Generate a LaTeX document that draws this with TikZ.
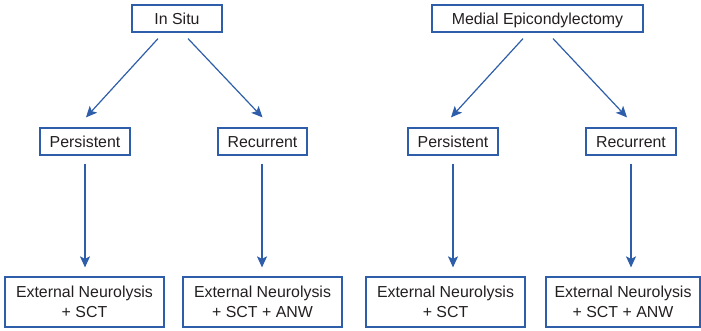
\documentclass[tikz,border=0pt]{standalone}
\usepackage{fontspec}
\setmainfont{Liberation Sans}
\usepackage{tikz}
\usetikzlibrary{arrows.meta}
\definecolor{flowblue}{RGB}{46,94,170}
\definecolor{txtgray}{RGB}{35,31,32}

\begin{document}
\begin{tikzpicture}[x=1pt, y=1pt,
  box/.style={draw=flowblue, line width=1.2pt, text=txtgray, inner sep=0pt, minimum height=27pt, font=\fontsize{15.9}{19.5}\selectfont},
  onebox/.style={box, text height=11.3pt, text depth=0pt},
  endbox/.style={box, minimum width=159pt, minimum height=50pt, align=center},
  arr/.style={draw=flowblue, line width=1.2pt, -{Stealth[length=11pt, width=10pt, inset=2.5pt]}}]
\useasboundingbox (0,0) rectangle (701,331);
% in situ
\node[onebox, minimum width=90pt] (1) at (177,312.5){In Situ};
\node[onebox, minimum width=90pt] (2) at (85,189.5){Persistent};
\node[onebox, minimum width=89pt] (3) at (262.5,189.5){Recurrent};
\node[endbox] (4) at (84.5,29){External Neurolysis\\+ SCT};
\node[endbox] (5) at (262.5,29){External Neurolysis\\+ SCT + ANW};
\draw[arr] ([xshift=-19pt,yshift=-6pt]1.south) -- ([xshift=1pt,yshift=10pt]2.north);
\draw[arr] ([xshift=11pt,yshift=-6pt]1.south) -- ([yshift=10pt]3.north);
\draw[arr, shorten <=8pt, shorten >=9pt] (2.south) -- (2.south |- 4.north);
\draw[arr, shorten <=8pt, shorten >=9pt] ([xshift=-0.5pt]3.south) -- ([xshift=-0.5pt]3.south |- 5.north);
% medial epicondylectomy
\node[onebox, minimum width=211pt] (6) at (537.5,312.5){Medial Epicondylectomy};
\node[onebox, minimum width=90pt] (7) at (453,189.5){Persistent};
\node[onebox, minimum width=90pt] (8) at (631,189.5){Recurrent};
\node[endbox] (9) at (445.5,29){External Neurolysis\\+ SCT};
\node[endbox, minimum width=154pt] (10) at (623,29){External Neurolysis\\+ SCT + ANW};
\draw[arr] ([xshift=-14.5pt,yshift=-6pt]6.south) -- ([xshift=-2pt,yshift=10pt]7.north);
\draw[arr] ([xshift=15.5pt,yshift=-6pt]6.south) -- ([xshift=-4pt,yshift=10pt]8.north);
\draw[arr, shorten <=8pt, shorten >=9pt] (7.south) -- (7.south |- 9.north);
\draw[arr, shorten <=8pt, shorten >=9pt] (8.south) -- (8.south |- 10.north);
\end{tikzpicture}
\end{document}
